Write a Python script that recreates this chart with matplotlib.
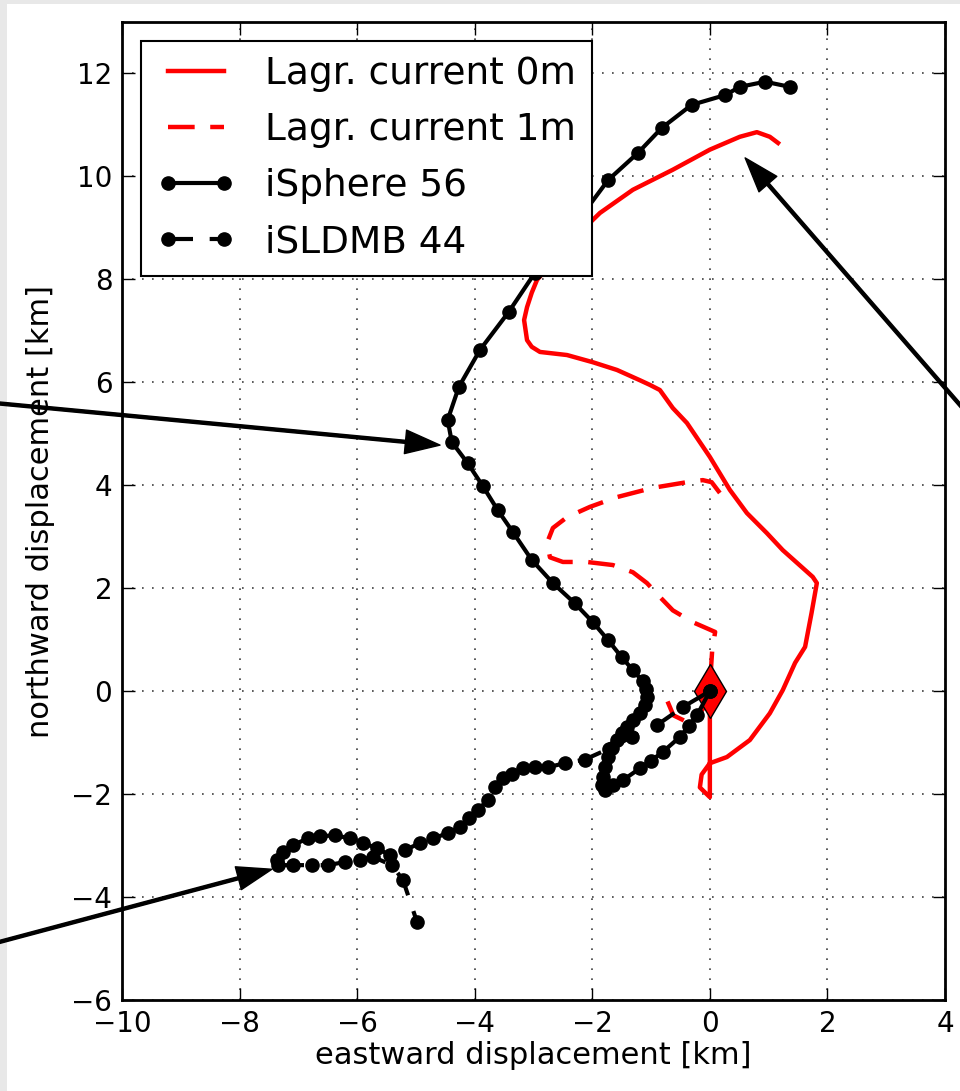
import numpy as np
import matplotlib
matplotlib.use('Agg')
import matplotlib.pyplot as plt
from matplotlib.patches import Rectangle

# Lagrangian current tracks [km]: 0 m and 1 m depth
lagr0_x = [0.0, 0.0, 0.0, 0.0, -0.17, -0.14, 0.0, 0.29, 0.68, 1.02, 1.24, 1.45, 1.62, 1.73,
           1.82, 1.75, 1.24, 0.97, 0.63, 0.34, 0.0, -0.39, -0.63, -0.85, -1.02, -1.19,
           -1.58, -1.99, -2.43, -2.89, -3.03, -3.11, -3.16, -3.11, -3.03, -2.94, -2.4,
           -1.87, -1.31, -0.63, 0.0, 0.51, 0.80, 1.02, 1.16]
lagr0_y = [0.0, -0.53, -1.3, -2.06, -1.87, -1.62, -1.40, -1.28, -0.95, -0.43, 0.02, 0.55, 0.86, 1.52,
           2.10, 2.22, 2.74, 3.07, 3.46, 3.91, 4.55, 5.21, 5.50, 5.85, 5.95, 6.04,
           6.24, 6.39, 6.53, 6.59, 6.69, 6.82, 7.21, 7.46, 7.74, 7.99, 8.7,
           9.29, 9.74, 10.13, 10.52, 10.77, 10.86, 10.77, 10.65]

lagr1_x = [-0.72, -0.62, -0.35, -0.12, 0.0, 0.02, 0.04, 0.09, -0.29, -0.63, -0.85, -1.07, -1.31,
           -1.65, -2.09, -2.50, -2.72, -2.77, -2.67, -2.43, -2.04, -1.58, -0.97, -0.39,
           -0.12, 0.03, 0.17]
lagr1_y = [-0.20, -0.47, -0.62, -0.35, 0.0, 0.45, 0.80, 1.15, 1.34, 1.57, 1.83, 2.10, 2.31,
           2.45, 2.51, 2.51, 2.60, 2.88, 3.17, 3.38, 3.58, 3.77, 3.95, 4.06,
           4.10, 4.06, 3.85]

# drifter tracks [km]
isphere_x = [0.0, -0.22, -0.36, -0.51, -0.80, -1.00, -1.19, -1.48, -1.64, -1.79, -1.84, -1.82,
             -1.78, -1.73, -1.66, -1.58, -1.50, -1.41, -1.30, -1.19, -1.10, -1.07, -1.09,
             -1.14, -1.31, -1.50, -1.73, -1.99, -2.30, -2.67, -3.03, -3.35, -3.61, -3.86,
             -4.12, -4.39, -4.46, -4.27, -3.91, -3.42, -2.98, -2.4, -1.73, -1.22, -0.82,
             -0.31, 0.26, 0.51, 0.94, 1.36]
isphere_y = [0.0, -0.47, -0.68, -0.89, -1.18, -1.35, -1.50, -1.73, -1.83, -1.92, -1.82, -1.67,
             -1.48, -1.28, -1.10, -0.95, -0.82, -0.70, -0.56, -0.43, -0.27, -0.12, 0.04,
             0.19, 0.41, 0.66, 0.99, 1.34, 1.71, 2.10, 2.55, 3.09, 3.52, 3.98,
             4.43, 4.84, 5.27, 5.91, 6.63, 7.37, 8.12, 8.9, 9.93, 10.46, 10.94,
             11.39, 11.58, 11.74, 11.84, 11.74]

isldmb_x = [0.0, -0.46, -0.90, -1.33, -1.72, -2.13, -2.47, -2.76, -2.98, -3.18, -3.37, -3.52,
            -3.66, -3.78, -3.95, -4.10, -4.25, -4.46, -4.71, -4.93, -5.19, -5.44, -5.66,
            -5.90, -6.12, -6.38, -6.63, -6.84, -7.09, -7.26, -7.36, -7.35, -7.09, -6.77,
            -6.50, -6.21, -5.95, -5.73, -5.41, -5.22, -4.98]
isldmb_y = [0.0, -0.31, -0.66, -0.89, -1.12, -1.33, -1.40, -1.48, -1.48, -1.50, -1.60, -1.69,
            -1.87, -2.12, -2.31, -2.47, -2.64, -2.76, -2.86, -2.95, -3.09, -3.19, -3.05,
            -2.95, -2.86, -2.80, -2.82, -2.86, -2.99, -3.13, -3.28, -3.38, -3.38, -3.38,
            -3.38, -3.32, -3.28, -3.22, -3.38, -3.67, -4.49]

# annotation arrows: (tip, tail) in km
arrows = [((-4.59, 4.78), (-12.93, 5.68)),
          ((-7.45, -3.46), (-12.93, -5.13)),
          ((0.60, 10.36), (5.10, 4.45))]

fig = plt.figure(figsize=(9.6, 10.91), dpi=100)
fig.patch.set_facecolor('#e8e8e8')
fig.patches.append(Rectangle((7 / 960, 0), 1, 1 - 4 / 1091, transform=fig.transFigure,
                             facecolor='white', edgecolor='none', zorder=-1))

ax = fig.add_axes([122 / 960, 91 / 1091, 823 / 960, 978 / 1091])

ax.plot(lagr0_x, lagr0_y, color='red', lw=3.2, label='Lagr. current 0m', zorder=3)
ax.plot(lagr1_x, lagr1_y, color='red', lw=3.2, dashes=(6, 3.5), label='Lagr. current 1m', zorder=3)
ax.plot(0, 0, marker='d', ms=28, mfc='red', mec='black', mew=1, zorder=4)
ax.plot(isphere_x, isphere_y, color='black', lw=3, marker='o', ms=9.5,
        label='iSphere 56', zorder=5)
ax.plot(isldmb_x, isldmb_y, color='black', lw=3, dashes=(6, 4), marker='o', ms=9.5,
        label='iSLDMB 44', zorder=5)

for tip, tail in arrows:
    ax.annotate('', xy=tip, xytext=tail, annotation_clip=False, zorder=6,
                arrowprops=dict(facecolor='black', edgecolor='black',
                                width=2.2, headwidth=17, headlength=25))

ax.set_xlim(-10, 4)
ax.set_ylim(-6, 13)
ax.set_xticks(np.arange(-10, 5, 2))
ax.set_yticks(np.arange(-6, 13, 2))
ax.grid(True, color='0.25', linestyle=(0, (1, 5)), linewidth=1.2)
ax.tick_params(direction='in', top=True, right=True, length=9, width=1,
               labelsize=20, pad=7)
for sp in ax.spines.values():
    sp.set_linewidth(2)

ax.set_xlabel('eastward displacement [km]', fontsize=22, labelpad=2)
ax.set_ylabel('northward displacement [km]', fontsize=22, labelpad=12)

leg = ax.legend(loc='upper left', fontsize=27, numpoints=2, fancybox=False,
                framealpha=1, edgecolor='black', handlelength=2.1,
                handletextpad=0.8, borderpad=0.42, labelspacing=0.53,
                borderaxespad=0.5)
leg.get_frame().set_linewidth(1.5)
leg.set_zorder(10)

fig.savefig('out.png', dpi=100, facecolor=fig.get_facecolor())
